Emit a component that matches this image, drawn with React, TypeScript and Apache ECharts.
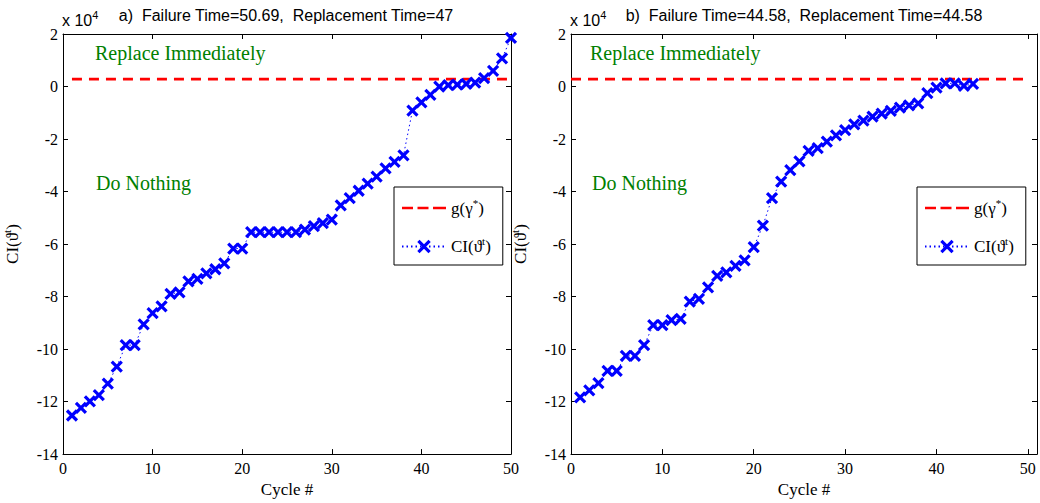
import React, { useEffect, useRef } from 'react';
import * as echarts from 'echarts';

// ---------- data (CI values in units of 10^4) ----------
const cyclesA = [1, 2, 3, 4, 5, 6, 7, 8, 9, 10, 11, 12, 13, 14, 15, 16, 17, 18, 19, 20, 21, 22, 23, 24, 25, 26, 27, 28, 29, 30, 31, 32, 33, 34, 35, 36, 37, 38, 39, 40, 41, 42, 43, 44, 45, 46, 47, 48, 49, 50];
const ciA = [-12.53, -12.24, -11.99, -11.75, -11.32, -10.67, -9.85, -9.85, -9.06, -8.63, -8.37, -7.9, -7.84, -7.42, -7.33, -7.12, -6.96, -6.74, -6.17, -6.17, -5.55, -5.55, -5.55, -5.55, -5.55, -5.55, -5.45, -5.32, -5.2, -5.07, -4.53, -4.25, -3.97, -3.7, -3.43, -3.12, -2.87, -2.62, -0.92, -0.6, -0.32, 0.0, 0.05, 0.07, 0.1, 0.15, 0.32, 0.6, 1.07, 1.85];

const cyclesB = [1, 2, 3, 4, 5, 6, 7, 8, 9, 10, 11, 12, 13, 14, 15, 16, 17, 18, 19, 20, 21, 22, 23, 24, 25, 26, 27, 28, 29, 30, 31, 32, 33, 34, 35, 36, 37, 38, 39, 40, 41, 42, 43, 44];
const ciB = [-11.84, -11.57, -11.3, -10.83, -10.83, -10.26, -10.26, -9.85, -9.09, -9.09, -8.9, -8.85, -8.19, -8.09, -7.65, -7.21, -7.08, -6.83, -6.62, -6.12, -5.3, -4.25, -3.62, -3.18, -2.85, -2.45, -2.35, -2.1, -1.86, -1.66, -1.44, -1.3, -1.15, -1.03, -0.93, -0.8, -0.72, -0.64, -0.25, -0.04, 0.12, 0.12, 0.02, 0.1];

const thresholdA = 0.28;
const thresholdB = 0.28;
const thresholdSpanA = [1, 50];
const thresholdSpanB = [0, 50];

const titles = ['a)  Failure Time=50.69,  Replacement Time=47', 'b)  Failure Time=44.58,  Replacement Time=44.58'];
const regionLabels = ['Replace Immediately', 'Do Nothing'];
const xTickStep = 10;
const yTickStep = 2;
const yMin = -14;
const yMax = 2;
const xMin = 0;
const xMaxA = 50;
const xMaxB = 51;
const xAxisName = 'Cycle #';
const legendNames = ['g(γ*)', 'CI(ϑt)'];

// ---------- styling ----------
const SERIF = '"Liberation Serif", "Times New Roman", "DejaVu Serif", serif';
const SANS = '"Liberation Sans", Arial, Helvetica, sans-serif';
const X_SYMBOL = 'path://M0,0L10,10M10,0L0,10';
const DASH_ICON = 'path://M0,0h11v2.6h-11zM15.5,0h11v2.6h-11zM31,0h13v2.6h-13z';

const supRich = {
  n: { fontFamily: SERIF, fontSize: 17, color: '#000', lineHeight: 22 },
  s: { fontFamily: SERIF, fontSize: 11, color: '#000', verticalAlign: 'top' as const, lineHeight: 11 },
};

function legendFormatter(name: string) {
  if (name === legendNames[0]) return '{n|g(γ}{s|*}{n|)}';
  return '{n|CI(ϑ}{s|t}{n|)}';
}

const panels = [
  { left: 61, width: 450, xMax: xMaxA, cycles: cyclesA, ci: ciA, thr: thresholdA, span: thresholdSpanA, title: titles[0], titleX: 286, legendLeft: 394, expX: 62, textX: [95, 96] },
  { left: 571, width: 466, xMax: xMaxB, cycles: cyclesB, ci: ciB, thr: thresholdB, span: thresholdSpanB, title: titles[1], titleX: 804, legendLeft: 917, expX: 570, textX: [590, 592] },
];

const TOP = 34;
const HEIGHT = 424;

function buildOption() {
  const grid: any[] = [];
  const xAxis: any[] = [];
  const yAxis: any[] = [];
  const series: any[] = [];
  const legend: any[] = [];
  const graphic: any[] = [];

  panels.forEach((p, i) => {
    grid.push({ left: p.left, top: TOP, width: p.width, height: HEIGHT, containLabel: false });
    const axisLine = { show: true, onZero: false, lineStyle: { color: '#000', width: 1 } };
    const axisTick = { show: true, inside: true, length: 5, lineStyle: { color: '#000', width: 1 } };
    xAxis.push({
      type: 'value', gridIndex: i, min: xMin, max: p.xMax, interval: xTickStep, position: 'bottom',
      axisLine, axisTick, splitLine: { show: false },
      axisLabel: {
        color: '#000', fontFamily: SERIF, fontSize: 16, margin: 6,
        formatter: (v: number) => (v % xTickStep === 0 ? String(v) : ''),
      },
      name: xAxisName, nameLocation: 'middle', nameGap: 26,
      nameTextStyle: { color: '#000', fontFamily: SERIF, fontSize: 17 },
    });
    xAxis.push({
      type: 'value', gridIndex: i, min: xMin, max: p.xMax, interval: xTickStep, position: 'top',
      axisLine, axisTick, splitLine: { show: false }, axisLabel: { show: false },
    });
    yAxis.push({
      type: 'value', gridIndex: i, min: yMin, max: yMax, interval: yTickStep, position: 'left',
      axisLine, axisTick, splitLine: { show: false },
      axisLabel: { color: '#000', fontFamily: SERIF, fontSize: 16, margin: 5 },
      name: '{n|CI(ϑ}{s|t}{n|)}', nameLocation: 'middle', nameGap: 40,
      nameTextStyle: { color: '#000', fontFamily: SERIF, fontSize: 17, rich: supRich },
    });
    yAxis.push({
      type: 'value', gridIndex: i, min: yMin, max: yMax, interval: yTickStep, position: 'right',
      axisLine, axisTick, splitLine: { show: false }, axisLabel: { show: false },
    });

    series.push({
      type: 'line', name: legendNames[0], xAxisIndex: 2 * i, yAxisIndex: 2 * i,
      data: p.span.map((x) => [x, p.thr]), symbol: 'none', silent: true, z: 2,
      lineStyle: { color: '#ff0000', width: 2.6, type: [10, 7] },
      itemStyle: { color: '#ff0000' },
    });
    series.push({
      type: 'line', name: legendNames[1], xAxisIndex: 2 * i, yAxisIndex: 2 * i,
      data: p.cycles.map((c, k) => [c, p.ci[k]]),
      symbol: X_SYMBOL, symbolSize: 10, showSymbol: true, silent: true, z: 3,
      lineStyle: { color: '#0000ff', width: 1, type: [1.5, 3] },
      itemStyle: { color: '#0000ff', borderColor: '#0000ff', borderWidth: 3.2 },
    });

    legend.push({
      orient: 'vertical', left: p.legendLeft, top: 187,
      data: [
        { name: legendNames[0], icon: DASH_ICON, itemStyle: { color: '#ff0000', borderWidth: 0 } },
        { name: legendNames[1], itemStyle: { color: '#0000ff', borderColor: '#0000ff', borderWidth: 3.2 } },
      ],
      selectedMode: false, backgroundColor: '#fff', borderColor: '#000', borderWidth: 1,
      padding: [10, 12, 10, 7], itemWidth: 44, itemHeight: 14, itemGap: 19,
      formatter: legendFormatter,
      textStyle: { fontFamily: SERIF, fontSize: 17, color: '#000', rich: supRich },
    });

    graphic.push({
      type: 'text', x: p.titleX, y: 15, silent: true,
      style: { text: p.title, fill: '#000', font: `16px ${SANS}`, textAlign: 'center', textVerticalAlign: 'middle' },
    });
    graphic.push({
      type: 'text', x: p.expX, y: 20, silent: true,
      style: {
        text: '{a|x 10}{b|4}', textAlign: 'left', textVerticalAlign: 'middle',
        rich: {
          a: { fontFamily: SANS, fontSize: 16, fill: '#000', lineHeight: 22 },
          b: { fontFamily: SANS, fontSize: 11, fill: '#000', verticalAlign: 'top', lineHeight: 11 },
        },
      },
    });
    graphic.push({
      type: 'text', x: p.textX[0], y: 52.5, silent: true,
      style: { text: regionLabels[0], fill: '#008000', font: `20px ${SERIF}`, textAlign: 'left', textVerticalAlign: 'middle' },
    });
    graphic.push({
      type: 'text', x: p.textX[1], y: 182.5, silent: true,
      style: { text: regionLabels[1], fill: '#008000', font: `20px ${SERIF}`, textAlign: 'left', textVerticalAlign: 'middle' },
    });
  });

  return { animation: false, backgroundColor: '#fff', grid, xAxis, yAxis, series, legend, graphic };
}

export default function App() {
  const ref = useRef<HTMLDivElement>(null);
  useEffect(() => {
    document.body.style.margin = '0';
    const chart = echarts.init(ref.current!, null, { renderer: 'svg', width: 1040, height: 503 });
    chart.setOption(buildOption() as any);
    return () => chart.dispose();
  }, []);
  return <div ref={ref} style={{ width: 1040, height: 503, background: '#fff' }} />;
}
